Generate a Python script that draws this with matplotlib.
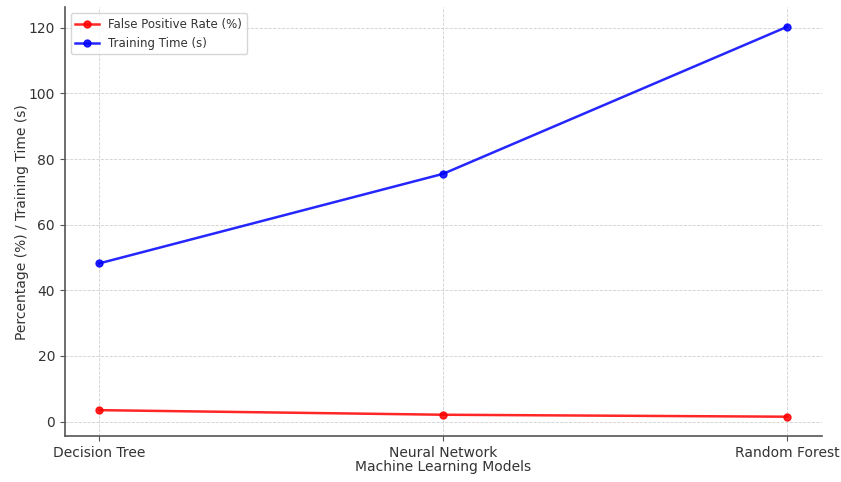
import matplotlib
matplotlib.use("Agg")
import matplotlib.pyplot as plt

models = ["Decision Tree", "Neural Network", "Random Forest"]
false_positive_rate = [3.5, 2.1, 1.5]
training_time = [48.2, 75.5, 120.3]

plt.rcParams['text.color'] = '#333333'
plt.rcParams['axes.labelcolor'] = '#333333'
plt.rcParams['xtick.color'] = '#333333'
plt.rcParams['ytick.color'] = '#333333'

fig, ax = plt.subplots(figsize=(8.41, 4.82), dpi=100)

ax.plot(models, false_positive_rate, marker='o', color='red', markersize=5, linewidth=1.8,
        alpha=0.85, label='False Positive Rate (%)')
ax.plot(models, training_time, marker='o', color='blue', markersize=5, linewidth=1.8,
        alpha=0.85, label='Training Time (s)')

ax.set_xlabel('Machine Learning Models', fontsize=10, labelpad=0)
ax.set_ylabel('Percentage (%) / Training Time (s)', fontsize=10, labelpad=0)
ax.tick_params(labelsize=10, color='#555555')
ax.grid(True, linestyle='--', linewidth=0.6, color='#d0d0d0')
for s in ['top', 'right']:
    ax.spines[s].set_visible(False)
for s in ['left', 'bottom']:
    ax.spines[s].set_color('#555555')
    ax.spines[s].set_linewidth(1.2)
ax.legend(loc='upper left', fontsize=8.5)

fig.subplots_adjust(left=0.077, right=0.977, top=0.985, bottom=0.095)
fig.savefig('out.png', dpi=100)
